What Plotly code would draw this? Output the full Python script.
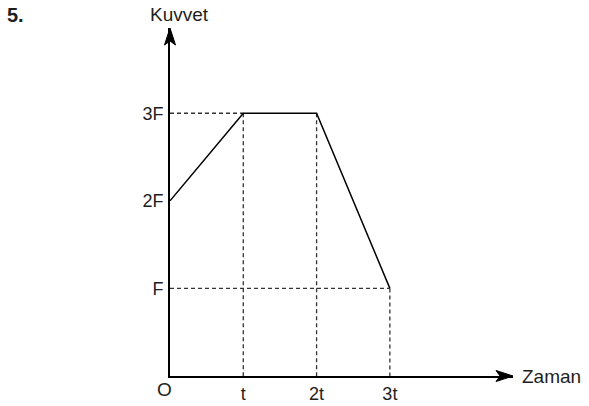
import plotly.graph_objects as go

# Force-time graph: force in multiples of F, time in multiples of t
time_vals = [0, 1, 2, 3]
force_vals = [2, 3, 3, 1]

time_ticks = [1, 2, 3]
time_labels = ["t", "2t", "3t"]
force_ticks = [1, 2, 3]
force_labels = ["F", "2F", "3F"]

x_max = 4.68
y_max = 3.973

W, H = 589, 406
M_L, M_R, M_T, M_B = 170, 76, 28, 30
PLOT_W = W - M_L - M_R
PLOT_H = H - M_T - M_B

FONT = "Liberation Sans, Arial, Helvetica, sans-serif"
TEXT_COLOR = "#1e1e1e"
DASH_COLOR = "#333333"

fig = go.Figure()

# Dashed guides: drop lines from each corner to the time axis,
# and level lines to the force axis where a level is first reached
guide_style = dict(color=DASH_COLOR, width=1.3, dash="4px,3px")
for i in range(1, len(time_vals)):
    x, y = time_vals[i], force_vals[i]
    fig.add_trace(go.Scatter(x=[x, x], y=[y, 0], mode="lines",
                             line=guide_style, hoverinfo="skip", showlegend=False))
seen = set()
for i in range(1, len(time_vals)):
    x, y = time_vals[i], force_vals[i]
    if y not in seen:
        seen.add(y)
        fig.add_trace(go.Scatter(x=[0, x], y=[y, y], mode="lines",
                                 line=guide_style, hoverinfo="skip", showlegend=False))

# The force curve
fig.add_trace(go.Scatter(x=time_vals, y=force_vals, mode="lines",
                         line=dict(color="black", width=1.5),
                         hoverinfo="skip", showlegend=False))

# Arrowheads at the ends of both axes (pixel-sized, anchored at the tips)
fig.add_shape(type="path", xsizemode="pixel", ysizemode="pixel",
              xanchor=1, yanchor=0, xref="paper", yref="paper",
              path="M 0 0 L -17 5.5 L -13 0 L -17 -5.5 Z",
              fillcolor="black", line=dict(color="black", width=1))
fig.add_shape(type="path", xsizemode="pixel", ysizemode="pixel",
              xanchor=0, yanchor=1, xref="paper", yref="paper",
              path="M 0 0 L -5.5 -17 L 0 -13 L 5.5 -17 Z",
              fillcolor="black", line=dict(color="black", width=1))

# Axis titles, origin label and problem number
fig.add_annotation(x=0, y=1, xref="paper", yref="paper", text="Kuvvet",
                   showarrow=False, xanchor="center", yanchor="bottom",
                   xshift=9, yshift=1, font=dict(family=FONT, size=19, color=TEXT_COLOR))
fig.add_annotation(x=1, y=0, xref="paper", yref="paper", text="Zaman",
                   showarrow=False, xanchor="left", yanchor="middle",
                   xshift=7, font=dict(family=FONT, size=19, color=TEXT_COLOR))
fig.add_annotation(x=0, y=0, xref="paper", yref="paper", text="O",
                   showarrow=False, xanchor="right", yanchor="top",
                   xshift=4, yshift=-1, font=dict(family=FONT, size=19, color=TEXT_COLOR))
fig.add_annotation(x=(5 - M_L) / PLOT_W, y=(H - M_B - 15) / PLOT_H,
                   xref="paper", yref="paper", text="<b>5.</b>",
                   showarrow=False, xanchor="left", yanchor="middle",
                   font=dict(family=FONT, size=20, color=TEXT_COLOR))

axis_common = dict(showgrid=False, zeroline=False, showline=True,
                   linecolor="black", linewidth=2, ticks="", automargin=False,
                   tickfont=dict(family=FONT, size=18, color=TEXT_COLOR))

fig.update_layout(
    width=W, height=H,
    margin=dict(l=M_L, r=M_R, t=M_T, b=M_B, autoexpand=False),
    paper_bgcolor="white", plot_bgcolor="white",
    xaxis=dict(range=[0, x_max], tickvals=time_ticks, ticktext=time_labels,
               ticklabelstandoff=0, **axis_common),
    yaxis=dict(range=[0, y_max], tickvals=force_ticks, ticktext=force_labels,
               ticklabelstandoff=1, **axis_common),
)

fig.write_html("out.html")
